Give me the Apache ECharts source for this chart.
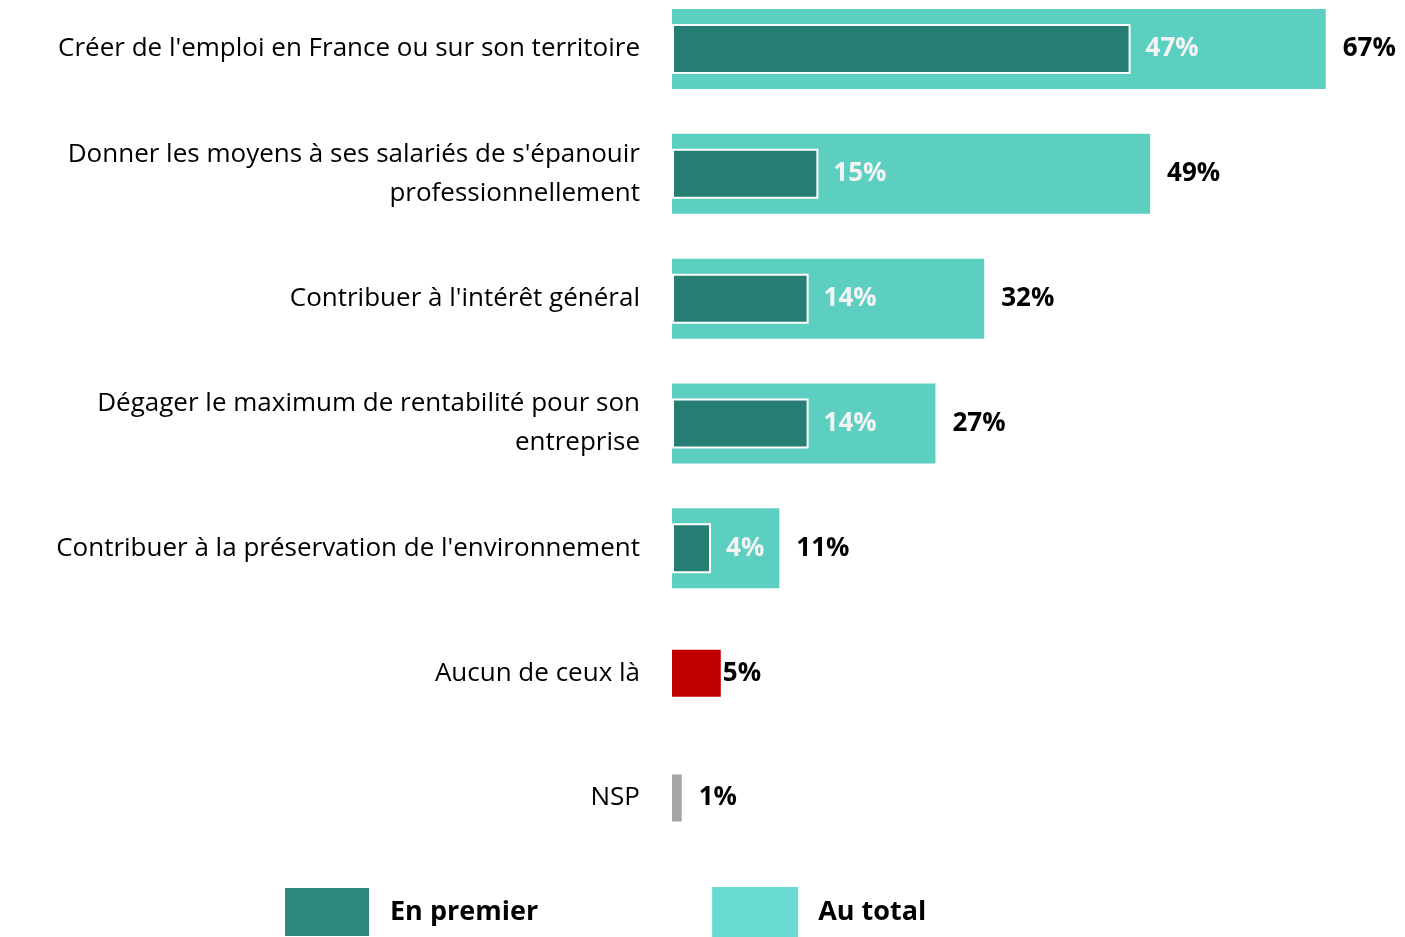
<!DOCTYPE html>
<html lang="fr">
<head>
    <meta charset="UTF-8">
    <title>Priorités de l'entreprise</title>
    <script src="https://cdn.jsdelivr.net/npm/echarts@6/dist/echarts.min.js"></script>
    <style>
        html, body { margin: 0; padding: 0; background: #fff; }
        .chart { width: 1405px; height: 937px; }
    </style>
</head>
<body>
<div class="chart"></div>
<script>
    let chart = echarts.init(document.querySelector('.chart'));

    // categories (top to bottom)
    let categories = [
        "Créer de l'emploi en France ou sur son territoire",
        "Donner les moyens à ses salariés de s'épanouir\nprofessionnellement",
        "Contribuer à l'intérêt général",
        "Dégager le maximum de rentabilité pour son\nentreprise",
        "Contribuer à la préservation de l'environnement",
        "Aucun de ceux là",
        "NSP"
    ];
    let auTotal = [67, 49, 32, 27, 11, '-', '-'];
    let enPremier = [47, 15, 14, 14, 4, '-', '-'];
    let autres = ['-', '-', '-', '-', '-', 5, 1];

    const FONT = 'Open Sans';

    // one hidden category axis per series so each bar is centred in its row
    function catAxis(show) {
        return {
            type: 'category',
            data: categories,
            inverse: true,
            boundaryGap: false,
            show: show,
            axisLine: {show: false},
            axisTick: {show: false},
            splitLine: {show: false},
            axisLabel: {
                show: show,
                margin: 32,
                color: '#000',
                fontFamily: FONT,
                fontSize: 26,
                lineHeight: 39,
                align: 'right'
            }
        };
    }

    let valueLabel = {
        show: true,
        position: 'right',
        formatter: '{c}%',
        color: '#000',
        fontFamily: FONT,
        fontWeight: 'bold',
        fontSize: 26
    };

    let option = {
        animation: false,
        legend: {
            left: 283,
            top: 886,
            padding: 0,
            icon: 'rect',
            itemWidth: 86,
            itemHeight: 50,
            itemGap: 174,
            textStyle: {
                color: '#000',
                fontFamily: FONT,
                fontWeight: 'bold',
                fontSize: 27,
                padding: [0, 0, 0, 15]
            },
            data: [
                {name: 'En premier', itemStyle: {color: '#2e877c'}},
                {name: 'Au total', itemStyle: {color: '#68dcd2'}}
            ]
        },
        grid: {left: 672, right: 50, top: 49, bottom: 139},
        xAxis: {type: 'value', min: 0, max: 70, show: false},
        yAxis: [catAxis(true), catAxis(false), catAxis(false)],
        series: [
            {
                name: 'Au total',
                type: 'bar',
                yAxisIndex: 0,
                barWidth: 80,
                data: auTotal,
                itemStyle: {color: '#5ccfc0'},
                label: Object.assign({}, valueLabel, {distance: 17})
            },
            {
                name: 'En premier',
                type: 'bar',
                yAxisIndex: 1,
                barWidth: 50,
                data: enPremier,
                itemStyle: {color: '#267d74', borderColor: '#fff', borderWidth: 2},
                label: Object.assign({}, valueLabel, {distance: 15, color: '#f4f4f4'})
            },
            {
                name: 'Autres',
                type: 'bar',
                yAxisIndex: 2,
                barWidth: 47,
                data: autres.map((v, i) => {
                    if (v === '-') return v;
                    return i === 5
                        ? {value: v, itemStyle: {color: '#c00000'}, label: {distance: 2}}
                        : {value: v, itemStyle: {color: '#a6a6a6'}, label: {distance: 17}};
                }),
                label: valueLabel
            }
        ]
    };

    chart.setOption(option);
</script>
</body>
</html>
